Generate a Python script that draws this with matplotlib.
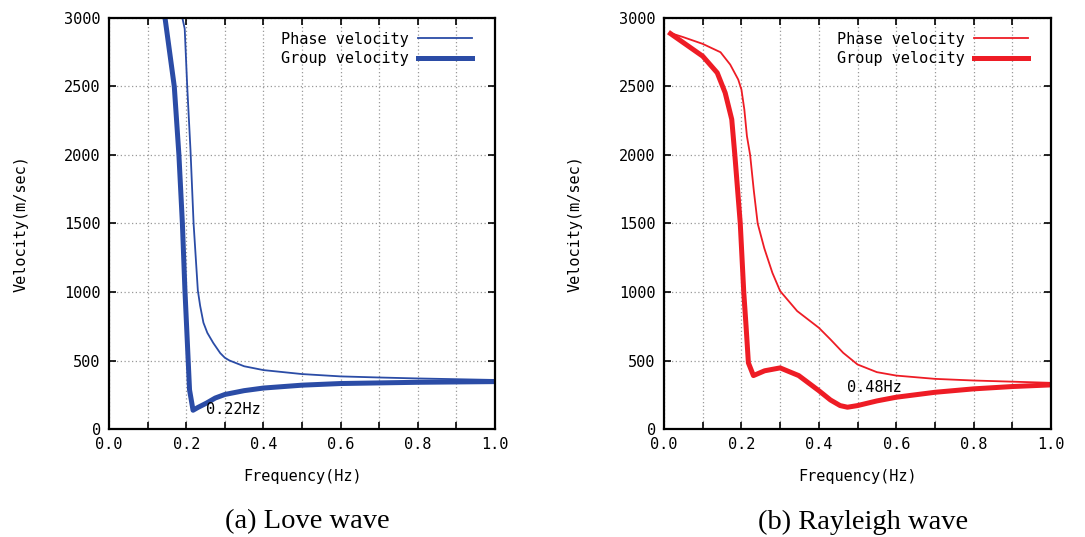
import matplotlib
matplotlib.use("Agg")
import matplotlib.pyplot as plt
from matplotlib.ticker import MultipleLocator, FuncFormatter

# Love wave
love_phase_f = [0.190, 0.196, 0.2025, 0.211, 0.219, 0.230, 0.236, 0.2445, 0.2546, 0.270, 0.288, 0.300, 0.312, 0.350, 0.400, 0.500, 0.600, 0.700, 0.800, 1.000]
love_phase_v = [3000, 2921, 2500, 2034, 1500, 1012, 899, 776, 702, 628, 554, 520, 500, 458, 430, 401, 384, 376, 369, 358]
love_group_f = [0.145, 0.157, 0.169, 0.181, 0.190, 0.1966, 0.205, 0.2085, 0.2176, 0.230, 0.253, 0.275, 0.300, 0.350, 0.400, 0.500, 0.600, 0.800, 1.000]
love_group_v = [3000, 2750, 2500, 2000, 1500, 1012, 500, 286, 137, 157, 190, 226, 252, 280, 299, 320, 332, 341, 346]

# Rayleigh wave
ray_phase_f = [0.0167, 0.05, 0.10, 0.146, 0.171, 0.1917, 0.200, 0.2075, 0.2142, 0.2225, 0.232, 0.242, 0.259, 0.280, 0.300, 0.344, 0.400, 0.430, 0.463, 0.500, 0.550, 0.600, 0.700, 0.800, 1.000]
ray_phase_v = [2890, 2860, 2811, 2750, 2660, 2551, 2478, 2333, 2138, 2000, 1740, 1500, 1320, 1140, 1007, 861, 739, 654, 556, 471, 415, 390, 366, 354, 337]
ray_group_f = [0.0167, 0.05, 0.10, 0.1375, 0.158, 0.175, 0.183, 0.190, 0.197, 0.206, 0.212, 0.218, 0.231, 0.260, 0.300, 0.348, 0.400, 0.430, 0.455, 0.474, 0.500, 0.550, 0.600, 0.700, 0.800, 0.900, 1.000]
ray_group_v = [2886, 2820, 2721, 2600, 2454, 2260, 2000, 1750, 1500, 1000, 750, 483, 390, 425, 446, 390, 280, 212, 171, 159, 171, 205, 232, 268, 293, 310, 322]

panels = [
    dict(pf=love_phase_f, pv=love_phase_v, gf=love_group_f, gv=love_group_v,
         color="#2b4ca6", note="0.22Hz", note_xy=(0.251, 146), caption="(a) Love wave",
         rect=[0.1005, 0.2011, 0.3558, 0.7654]),
    dict(pf=ray_phase_f, pv=ray_phase_v, gf=ray_group_f, gv=ray_group_v,
         color="#ee1c25", note="0.48Hz", note_xy=(0.472, 302), caption="(b) Rayleigh wave",
         rect=[0.612, 0.2011, 0.3567, 0.7654]),
]

mono = "DejaVu Sans Mono"
fig = plt.figure(figsize=(10.85, 5.37), dpi=100)

for p in panels:
    ax = fig.add_axes(p["rect"])
    ax.plot(p["pf"], p["pv"], color=p["color"], lw=1.3, label="Phase velocity")
    ax.plot(p["gf"], p["gv"], color=p["color"], lw=3.6, label="Group velocity",
            solid_joinstyle="round")
    ax.set_xlim(0, 1.0)
    ax.set_ylim(0, 3000)
    ax.xaxis.set_major_locator(MultipleLocator(0.1))
    ax.yaxis.set_major_locator(MultipleLocator(500))
    ax.xaxis.set_major_formatter(FuncFormatter(
        lambda v, pos: ("%.1f" % v) if round(v * 10) % 2 == 0 else ""))
    ax.tick_params(direction="in", top=True, right=True, length=5, width=1.2,
                   labelsize=11, pad=6)
    for lab in ax.get_xticklabels() + ax.get_yticklabels():
        lab.set_family(mono)
    ax.grid(True, color="#999999", linestyle=(0, (1, 2)), linewidth=0.9)
    for s in ax.spines.values():
        s.set_linewidth(1.6)
    ax.set_xlabel("Frequency(Hz)", family=mono, fontsize=11, labelpad=12)
    ax.set_ylabel("Velocity(m/sec)", family=mono, fontsize=11, labelpad=26)
    ax.text(p["note_xy"][0], p["note_xy"][1], p["note"], family=mono, fontsize=11,
            va="center", ha="left")
    ax.legend(loc="upper right", bbox_to_anchor=(0.975, 1.0), frameon=False,
              markerfirst=False, prop={"family": mono, "size": 11},
              handlelength=3.5, labelspacing=0.3, handletextpad=0.6)
    x0, y0, w, h = p["rect"]
    fig.text(x0 + w / 2 + 0.005, 0.028, p["caption"], family="Liberation Serif",
             fontsize=20.5, ha="center", va="center")

fig.savefig("out.png", dpi=100)
